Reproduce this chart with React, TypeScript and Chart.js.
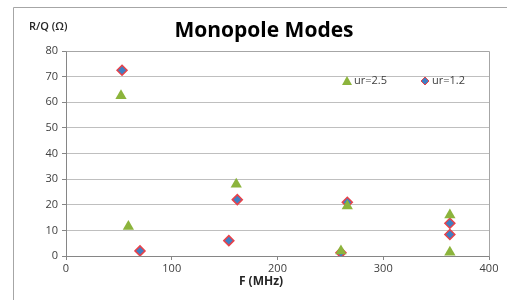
import React, { useEffect, useRef } from "react";
import { Chart, registerables } from "chart.js";

Chart.register(...registerables);

const title = "Monopole Modes";
const yTitle = "R/Q (Ω)";
const xTitle = "F (MHz)";
const seriesNames = ["ur=2.5", "ur=1.2"];

// ur=2.5 (green triangles)
const f25 = [52, 59, 161, 260, 266, 363, 363];
const rq25 = [62.5, 11.5, 28, 2, 19.5, 16, 1.5];
// ur=1.2 (blue diamonds)
const f12 = [53, 70, 154, 162, 260, 266, 363, 363];
const rq12 = [72.5, 2, 6, 22, 1.3, 21, 12.8, 8.4];

const xMin = 0, xMax = 400, xStep = 100;
const yMin = 0, yMax = 80, yStep = 10;

const GREEN = "#8CB43C";
const BLUE = "#3F7FC4";
const RED = "#E8424A";
const FONT = "'Open Sans', 'Liberation Sans', sans-serif";

const decorPlugin = {
  id: "decor",
  beforeDraw(chart: any) {
    const ctx = chart.ctx;
    ctx.save();
    ctx.strokeStyle = "#A6A6A6";
    ctx.lineWidth = 1;
    ctx.beginPath();
    ctx.moveTo(13.5, 300);
    ctx.lineTo(13.5, 7.5);
    ctx.lineTo(507, 7.5);
    ctx.stroke();
    ctx.restore();
  },
  afterDatasetsDraw(chart: any) {
    const ctx = chart.ctx;
    const a = chart.chartArea;
    ctx.save();
    // plot border top/right
    ctx.strokeStyle = "#A6A6A6";
    ctx.lineWidth = 1;
    ctx.beginPath();
    ctx.moveTo(Math.round(a.left) + 0.5, Math.round(a.top) + 0.5);
    ctx.lineTo(Math.round(a.right) + 0.5, Math.round(a.top) + 0.5);
    ctx.lineTo(Math.round(a.right) + 0.5, Math.round(a.bottom) + 0.5);
    ctx.stroke();
    // title
    ctx.fillStyle = "#000";
    ctx.textAlign = "center";
    ctx.textBaseline = "middle";
    ctx.font = `bold 21px ${FONT}`;
    ctx.fillText(title, 264, 31);
    // y title
    ctx.font = `600 11px ${FONT}`;
    ctx.fillStyle = "#262626";
    ctx.textAlign = "left";
    ctx.fillText(yTitle, 29, 27);
    // x title
    ctx.font = `bold 12px ${FONT}`;
    ctx.textAlign = "center";
    ctx.fillText(xTitle, 261, 282);
    // legend
    ctx.font = `11px ${FONT}`;
    ctx.fillStyle = "#404040";
    ctx.textAlign = "left";
    const ly = 81;
    // triangle
    ctx.fillStyle = GREEN;
    ctx.beginPath();
    ctx.moveTo(347, ly - 5);
    ctx.lineTo(352, ly + 4);
    ctx.lineTo(342, ly + 4);
    ctx.closePath();
    ctx.fill();
    ctx.fillStyle = "#404040";
    ctx.fillText(seriesNames[0], 354, ly);
    // diamond
    ctx.fillStyle = BLUE;
    ctx.strokeStyle = RED;
    ctx.beginPath();
    ctx.moveTo(425, ly - 4);
    ctx.lineTo(429, ly);
    ctx.lineTo(425, ly + 4);
    ctx.lineTo(421, ly);
    ctx.closePath();
    ctx.fill();
    ctx.stroke();
    ctx.fillStyle = "#404040";
    ctx.fillText(seriesNames[1], 432, ly);
    ctx.restore();
  },
};

export default function App() {
  const ref = useRef<HTMLCanvasElement | null>(null);
  useEffect(() => {
    if (!ref.current) return;
    const chart = new Chart(ref.current, {
      type: "scatter",
      data: {
        datasets: [
          {
            label: seriesNames[0],
            data: f25.map((x, i) => ({ x, y: rq25[i] })),
            pointStyle: "triangle",
            pointRadius: 6.5,
            backgroundColor: GREEN,
            borderColor: GREEN,
            borderWidth: 0,
          },
          {
            label: seriesNames[1],
            data: f12.map((x, i) => ({ x, y: rq12[i] })),
            pointStyle: "rectRot",
            pointRadius: 5,
            backgroundColor: BLUE,
            borderColor: RED,
            borderWidth: 1.5,
          },
        ],
      },
      options: {
        animation: false,
        responsive: false,
        maintainAspectRatio: false,
        layout: { padding: { left: 16, right: 18, top: 51, bottom: 24 } },
        plugins: { legend: { display: false }, tooltip: { enabled: false }, title: { display: false } },
        scales: {
          x: {
            type: "linear",
            min: xMin,
            max: xMax,
            afterFit: (s: any) => { s.height = 20; },
            ticks: { stepSize: xStep, color: "#404040", font: { family: FONT, size: 11 }, padding: 2 },
            grid: { display: true, drawOnChartArea: false, drawTicks: true, tickLength: 4, color: "#868686" },
            border: { color: "#868686" },
          },
          y: {
            type: "linear",
            min: yMin,
            max: yMax,
            afterFit: (s: any) => { s.width = 50; },
            ticks: { stepSize: yStep, color: "#404040", font: { family: FONT, size: 11 }, padding: 4 },
            grid: { color: "#BFBFBF", tickLength: 4, tickColor: "#868686" },
            border: { color: "#868686" },
          },
        },
      },
      plugins: [decorPlugin],
    });
    return () => chart.destroy();
  }, []);
  return (
    <div style={{ position: "fixed", left: 0, top: 0, width: 507, height: 300, background: "#fff" }}>
      <canvas ref={ref} width={507} height={300} style={{ width: 507, height: 300 }} />
    </div>
  );
}
